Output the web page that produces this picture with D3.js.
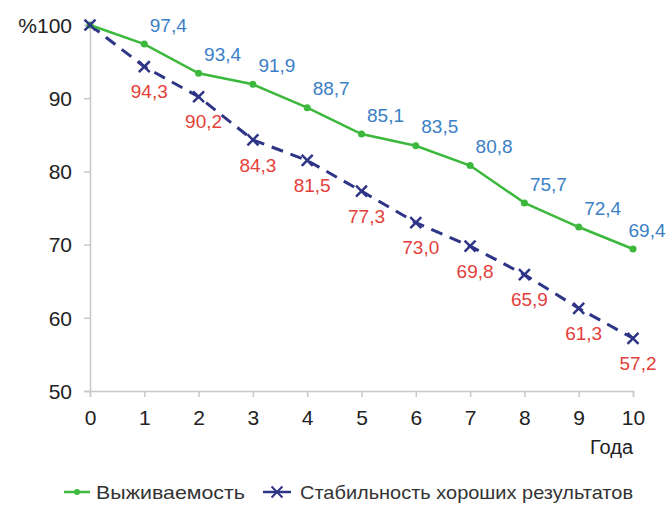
<!DOCTYPE html>
<html>
<head>
<meta charset="utf-8">
<script src="https://cdn.jsdelivr.net/npm/d3@7"></script>
<style>
  body { margin: 0; background: #fff; }
  text { font-family: "Liberation Sans", Arial, sans-serif; }
</style>
</head>
<body>
<svg id="chart" width="669" height="505"></svg>
<script>
const years = [0, 1, 2, 3, 4, 5, 6, 7, 8, 9, 10];
const survival = [100, 97.4, 93.4, 91.9, 88.7, 85.1, 83.5, 80.8, 75.7, 72.4, 69.4];
const stability = [100, 94.3, 90.2, 84.3, 81.5, 77.3, 73.0, 69.8, 65.9, 61.3, 57.2];
const yTicks = [50, 60, 70, 80, 90, 100];
const seriesNames = ["Выживаемость", "Стабильность хороших результатов"];

const svg = d3.select("#chart");
const x = d3.scaleLinear().domain([0, 10]).range([90, 633]);
const y = d3.scaleLinear().domain([50, 100]).range([391, 25]);
const fmt = v => v.toFixed(1).replace(".", ",");

// axes
const xAxis = svg.append("g")
  .attr("transform", "translate(0,391)")
  .call(d3.axisBottom(x).tickValues(years).tickSize(6).tickPadding(13));
const yAxis = svg.append("g")
  .attr("transform", "translate(90,0)")
  .call(d3.axisLeft(y).tickValues(yTicks).tickSize(6).tickPadding(12)
    .tickFormat(d => d === 100 ? "%100" : d));
[xAxis, yAxis].forEach(g => {
  g.select(".domain").attr("stroke", "#c8c8c8").attr("stroke-width", 1.5);
  g.selectAll(".tick line").attr("stroke", "#c8c8c8").attr("stroke-width", 1.5);
  g.selectAll(".tick text").attr("fill", "#222").style("font-size", "21px");
});
yAxis.selectAll(".tick text").attr("dy", "0.35em");
xAxis.selectAll(".tick text").attr("dy", "0.71em");

svg.append("text")
  .attr("x", 633).attr("y", 454)
  .attr("text-anchor", "end")
  .attr("fill", "#222")
  .style("font-size", "20px")
  .text("Года");

// lines
const line = d3.line().x((d, i) => x(years[i])).y(d => y(d));

svg.append("path")
  .datum(stability)
  .attr("fill", "none")
  .attr("stroke", "#2e3486")
  .attr("stroke-width", 3)
  .attr("stroke-dasharray", "12,8")
  .attr("d", line);

svg.append("path")
  .datum(survival)
  .attr("fill", "none")
  .attr("stroke", "#3cb83c")
  .attr("stroke-width", 2.5)
  .attr("d", line);

svg.selectAll(".dot")
  .data(survival)
  .join("circle")
  .attr("cx", (d, i) => x(years[i]))
  .attr("cy", d => y(d))
  .attr("r", 3.5)
  .attr("fill", "#3cb83c");

const cross = d3.symbol().type(d3.symbolX).size(80);
svg.selectAll(".cross")
  .data(stability)
  .join("path")
  .attr("transform", (d, i) => `translate(${x(years[i])},${y(d)})`)
  .attr("d", cross)
  .attr("fill", "none")
  .attr("stroke", "#2e3486")
  .attr("stroke-width", 2.5);

// value labels
svg.selectAll(".lblS")
  .data(survival.slice(1))
  .join("text")
  .attr("x", (d, i) => Math.min(x(years[i + 1]) + 24, 647))
  .attr("y", d => y(d) - 19)
  .attr("dy", "0.35em")
  .attr("text-anchor", "middle")
  .attr("fill", "#3b80c6")
  .style("font-size", "19px")
  .text(fmt);

svg.selectAll(".lblT")
  .data(stability.slice(1))
  .join("text")
  .attr("x", (d, i) => x(years[i + 1]) + 5)
  .attr("y", d => y(d) + 25)
  .attr("dy", "0.35em")
  .attr("text-anchor", "middle")
  .attr("fill", "#e5403a")
  .style("font-size", "19px")
  .text(fmt);

// legend
const leg = svg.append("g").attr("transform", "translate(0,492)");
leg.append("line").attr("x1", 64).attr("x2", 90).attr("stroke", "#3cb83c").attr("stroke-width", 2.5);
leg.append("circle").attr("cx", 77).attr("r", 3).attr("fill", "#3cb83c");
leg.append("text").attr("x", 96).attr("dy", "0.35em")
  .attr("fill", "#333").style("font-size", "19px")
  .attr("textLength", 149).attr("lengthAdjust", "spacingAndGlyphs")
  .text(seriesNames[0]);
leg.append("line").attr("x1", 263).attr("x2", 291).attr("stroke", "#2e3486").attr("stroke-width", 2.5);
leg.append("path").attr("transform", "translate(277,0)").attr("d", cross)
  .attr("fill", "none").attr("stroke", "#2e3486").attr("stroke-width", 2);
leg.append("text").attr("x", 300).attr("dy", "0.35em")
  .attr("fill", "#333").style("font-size", "19px")
  .attr("textLength", 333).attr("lengthAdjust", "spacingAndGlyphs")
  .text(seriesNames[1]);
</script>
</body>
</html>
